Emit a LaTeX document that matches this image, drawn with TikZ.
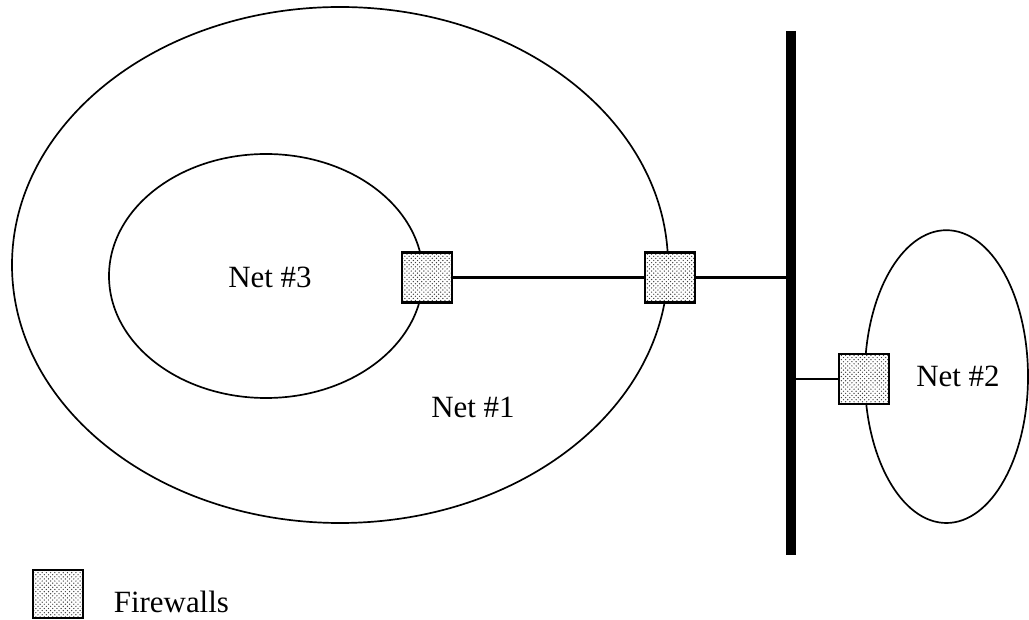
\documentclass[tikz,border=0pt]{standalone}
\usepackage{fontspec}
\setmainfont{Liberation Serif}
\usetikzlibrary{shapes,positioning,patterns}

\begin{document}
\begin{tikzpicture}[line width=1.2pt,
  net/.style={ellipse, draw, inner sep=0pt},
  fw/.style={rectangle, draw, line width=1.6pt, inner sep=0pt,
    minimum width=1.25cm, minimum height=1.25cm,
    preaction={fill=white}, pattern=crosshatch dots, pattern color=black!75},
  link/.style={line width=1.7pt},
  lbl/.style={font=\fontsize{22}{26}\selectfont, inner sep=0pt}]
        \useasboundingbox (0,0) rectangle (25.725,15.475);
        % networks
        \node [net, minimum width=16.4cm, minimum height=12.9cm] (N1) at (8.5,8.85) {};
        \node [net, minimum width=7.85cm, minimum height=6.1cm] (N3) at (6.65,8.575) {};
        \node [net, minimum width=4.08cm, minimum height=7.32cm] (N2) at (23.66,6.06) {};
        \node [lbl] (L3) at (6.75,8.55) {Net \#3};
        \node [lbl] (L1) at (11.825,5.3) {Net \#1};
        \node [lbl] (L2) at (23.95,6.075) {Net \#2};
        % backbone
        \coordinate (bustop) at (19.775,14.7);
        \coordinate (busbot) at (19.775,1.6);
        \draw [line width=7pt] (bustop) -- (busbot);
        % firewalls
        \node [fw] (F3) at (10.675,8.54) {};
        \node [fw] (F1) at (16.75,8.54) {};
        \node [fw] (F2) at (21.6,6.0) {};
        \draw [link] (F3) -- (F1);
        \draw [link] (F1) -- (F1 -| bustop);
        \draw [link] (bustop |- F2) -- (F2);
        % legend
        \node [fw, minimum height=1.2cm] (leg) at (1.45,0.625) {};
        \node [lbl, anchor=west] (legtxt) at (2.825,0.425) {Firewalls};
\end{tikzpicture}
\end{document}
